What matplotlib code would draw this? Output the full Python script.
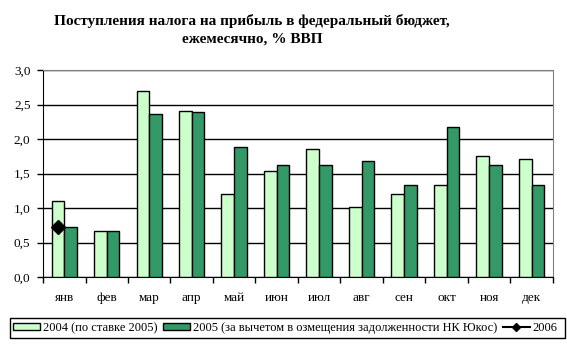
import numpy as np
import matplotlib
matplotlib.use("Agg")
import matplotlib.pyplot as plt
from matplotlib.patches import Rectangle
from matplotlib.lines import Line2D

plt.rcParams['font.family'] = ['Liberation Serif', 'DejaVu Serif']

months = ["янв", "фев", "мар", "апр", "май", "июн",
          "июл", "авг", "сен", "окт", "ноя", "дек"]
tax_2004 = [1.10, 0.66, 2.69, 2.40, 1.20, 1.53, 1.85, 1.02, 1.21, 1.33, 1.75, 1.71]
tax_2005 = [0.72, 0.66, 2.36, 2.39, 1.88, 1.62, 1.62, 1.68, 1.33, 2.18, 1.62, 1.34]
tax_2006 = [0.72]

label_2004 = "2004 (по ставке 2005)"
label_2005 = "2005 (за вычетом в озмещения задолженности НК Юкос)"
label_2006 = "2006"

fig = plt.figure(figsize=(5.67, 3.55), dpi=100)
ax = fig.add_axes([43 / 567, 1 - 277 / 355, 510 / 567, 207 / 355])

x = np.arange(len(months))
w = 0.3
ax.bar(x - w / 2, tax_2004, w, color="#CCFFCC", edgecolor="black", linewidth=1, zorder=3)
ax.bar(x + w / 2, tax_2005, w, color="#339966", edgecolor="black", linewidth=1, zorder=3)
ax.plot(x[:len(tax_2006)] - w / 2, tax_2006, color="black", marker="D",
        markersize=7, zorder=4)

ax.set_xlim(-0.5, len(months) - 0.5)
ax.set_ylim(0, 3.0)
yt = np.arange(0, 3.01, 0.5)
ax.set_yticks(yt)
ax.set_yticklabels([f"{v:.1f}".replace(".", ",") for v in yt], fontsize=9.5)
ax.yaxis.grid(True, color="black", linewidth=1, zorder=0)
ax.set_axisbelow(True)

ax.set_xticks(x)
ax.set_xticklabels(months, fontsize=9.5)
ax.tick_params(axis="x", length=0, pad=11)
ax.set_xticks(np.arange(-0.5, len(months)), minor=True)
ax.tick_params(axis="x", which="minor", length=4, direction="out", width=1)
ax.tick_params(axis="y", length=4, direction="out", width=1, pad=5)

for side in ("top", "right"):
    ax.spines[side].set_color("#808080")
for side in ("left", "bottom"):
    ax.spines[side].set_color("black")

fig.text(252 / 567, 1 - 30 / 355,
         "Поступления налога на прибыль в федеральный бюджет,\nежемесячно, % ВВП",
         ha="center", va="center", fontsize=11, fontweight="bold", linespacing=1.45)

handles = [
    Rectangle((0, 0), 1, 1, facecolor="#CCFFCC", edgecolor="black"),
    Rectangle((0, 0), 1, 1, facecolor="#339966", edgecolor="black"),
    Line2D([], [], color="black", marker="D", markersize=4),
]
leg = fig.legend(handles, [label_2004, label_2005, label_2006], ncol=3,
                 loc="center left", bbox_to_anchor=(12 / 567, 1 - 328 / 355),
                 frameon=False, fontsize=9, handlelength=2.1, handleheight=0.45,
                 handletextpad=0.25, columnspacing=0.5, borderpad=0.1, borderaxespad=0)

fig.patches.append(Rectangle((10 / 567, 1 - 338 / 355), 555 / 567, 20 / 355,
                             transform=fig.transFigure, facecolor="none",
                             edgecolor="black", linewidth=1, zorder=11))

fig.savefig("out.png", dpi=100)
